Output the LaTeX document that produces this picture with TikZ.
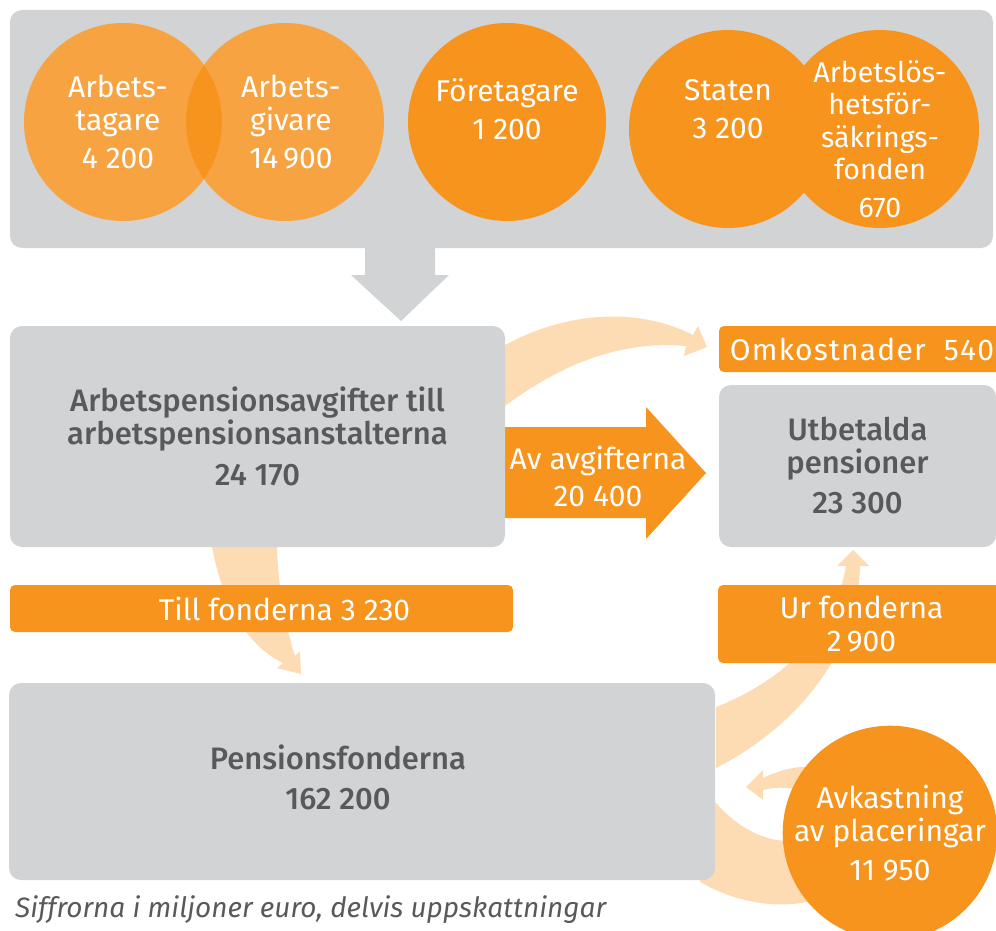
\documentclass[tikz,border=0pt]{standalone}
\usepackage{fontspec}
\setmainfont{Fira Sans}[BoldFont={Fira Sans Medium}]
\usetikzlibrary{positioning}

\definecolor{boxgray}{HTML}{D1D3D4}
\definecolor{flowpeach}{HTML}{FDDCB3}
\definecolor{penorange}{HTML}{F7941E}
\definecolor{lightorange}{HTML}{F8A342}
\definecolor{inkgray}{HTML}{58595B}
\newcommand{\labelsize}{\fontsize{30}{33}\selectfont}
\newcommand{\headsize}{\fontsize{31}{33}\selectfont}
\newcommand{\smallsize}{\fontsize{28.5}{32.5}\selectfont}

\tikzset{
  graybox/.style={fill=boxgray, rounded corners=12pt, inner sep=0pt},
  orangebar/.style={fill=penorange, rounded corners=5pt, inner sep=0pt},
  bartext/.style={text=white, font=\labelsize, align=center},
  payer/.style={circle, fill=penorange, minimum size=198pt, inner sep=0pt, bartext},
  heading/.style={text=inkgray, font=\headsize\bfseries, align=center},
  flow/.style={fill=flowpeach},
}

\begin{document}
\begin{tikzpicture}[x=1pt, y=-1pt]
    \useasboundingbox (0,0) rectangle (996,931);
    % light flows behind everything
    \fill[flow] (505,345) .. controls (570,310) and (640,308) .. (693,335)
        -- (698,326) -- (707,347) -- (684,356) -- (686,346)
        .. controls (620,340) and (560,365) .. (505,406) -- cycle;
    \fill[flow] (212,547) .. controls (222,600) and (245,645) .. (283,663)
        -- (277,668) -- (301,674) -- (300,651) -- (295,656)
        .. controls (285,625) and (278,585) .. (277,547) -- cycle;
    \fill[flow] (716,707) .. controls (785,680) and (835,630) .. (846,566)
        -- (837,566) -- (853,550) -- (869,566) -- (860,566)
        .. controls (858,650) and (800,725) .. (716,768) -- cycle;
    \fill[flow] (700,882) .. controls (740,905) and (790,912) .. (830,895)
        -- (850,800) -- (820,768) .. controls (800,764) and (780,770) .. (763,778)
        -- (763,770) -- (746,787) -- (763,800) -- (763,790)
        .. controls (778,786) and (795,787) .. (812,795)
        -- (800,840) .. controls (770,845) and (740,830) .. (716,803)
        -- (700,803) -- cycle;

    % who pays
    \node[graybox, minimum width=983pt, minimum height=238pt] (payers) at (501.5,129) {};
    \node[payer, fill=lightorange] (worker) at (123,122) {};
    \node[payer, fill=lightorange] (employer) at (285,122) {};
    % where the two overlap
    \begin{scope}
        \clip (worker.center) circle (99);
        \fill[penorange] (employer.center) circle (99);
    \end{scope}
    \node[bartext] (workertext) at ([xshift=-5pt]worker.center) {Arbets-\\tagare\\[5pt]4 200};
    \node[bartext] (employertext) at ([xshift=6pt]employer.center) {Arbets-\\givare\\[5pt]14\,900};
    \node[payer, label={[bartext, yshift=13pt]center:{Företagare\\[5pt]1 200}}] (entrepreneur) at (507,122) {};
    \node[payer, label={[bartext, yshift=20pt]center:{Staten\\[5pt]3 200}}] (state) at (728,129) {};
    \node[payer, label={[bartext, font=\smallsize, yshift=-10pt]center:{Arbetslös-\\hetsför-\\säkrings-\\fonden\\[5pt]670}}] (unemployment) at (880,129) {};

    % big arrows
    \fill[boxgray] (365,245) -- (435,245) -- (435,275) -- (449,275) -- (401,321)
        -- (351,275) -- (365,275) -- cycle;
    \fill[penorange] (505,427) -- (646,427) -- (646,407) -- (706,473) -- (646,539)
        -- (646,518) -- (505,518) -- cycle;
    \node[bartext] (fromfees) at (598,476) {Av avgifterna\\[4pt]20 400};

    % the boxes
    \node[graybox, minimum width=495pt, minimum height=221pt, heading] (fees) at (257.5,436.5)
        {Arbetspensionsavgifter till\\arbetspensionsanstalterna\\[8pt]24 170};
    \node[orangebar, minimum width=286pt, minimum height=46pt, bartext] (costs) at (862,349)
        {\addfontfeature{LetterSpace=4}Omkostnader\ \ 540};
    \node[graybox, minimum width=277pt, minimum height=162pt, heading] (paid) at (857.5,466)
        {Utbetalda\\pensioner\\[7pt]23 300};
    \node[orangebar, minimum width=503pt, minimum height=47pt,
        label={[bartext, xshift=23pt]center:Till fonderna 3 230}] (tofunds) at (261.5,608.5) {};
    \node[orangebar, minimum width=287pt, minimum height=78pt, bartext] (fromfunds) at (861.5,624)
        {Ur fonderna\\2\,900};
    \node[graybox, minimum width=706pt, minimum height=197pt] (funds) at (362,781.5) {};
    \node[heading] (fundstext) at (338,777) {Pensionsfonderna\\[7pt]162 200};
    \node[payer, minimum size=200pt] (returns) at (890,833) {Avkastning\\av placeringar\\[6pt]11 950};

    \node[anchor=base west, inner sep=0pt, text=inkgray, font=\fontsize{28}{30}\selectfont\itshape]
        (note) at (15,917) {Siffrorna i miljoner euro, delvis uppskattningar};
\end{tikzpicture}
\end{document}
